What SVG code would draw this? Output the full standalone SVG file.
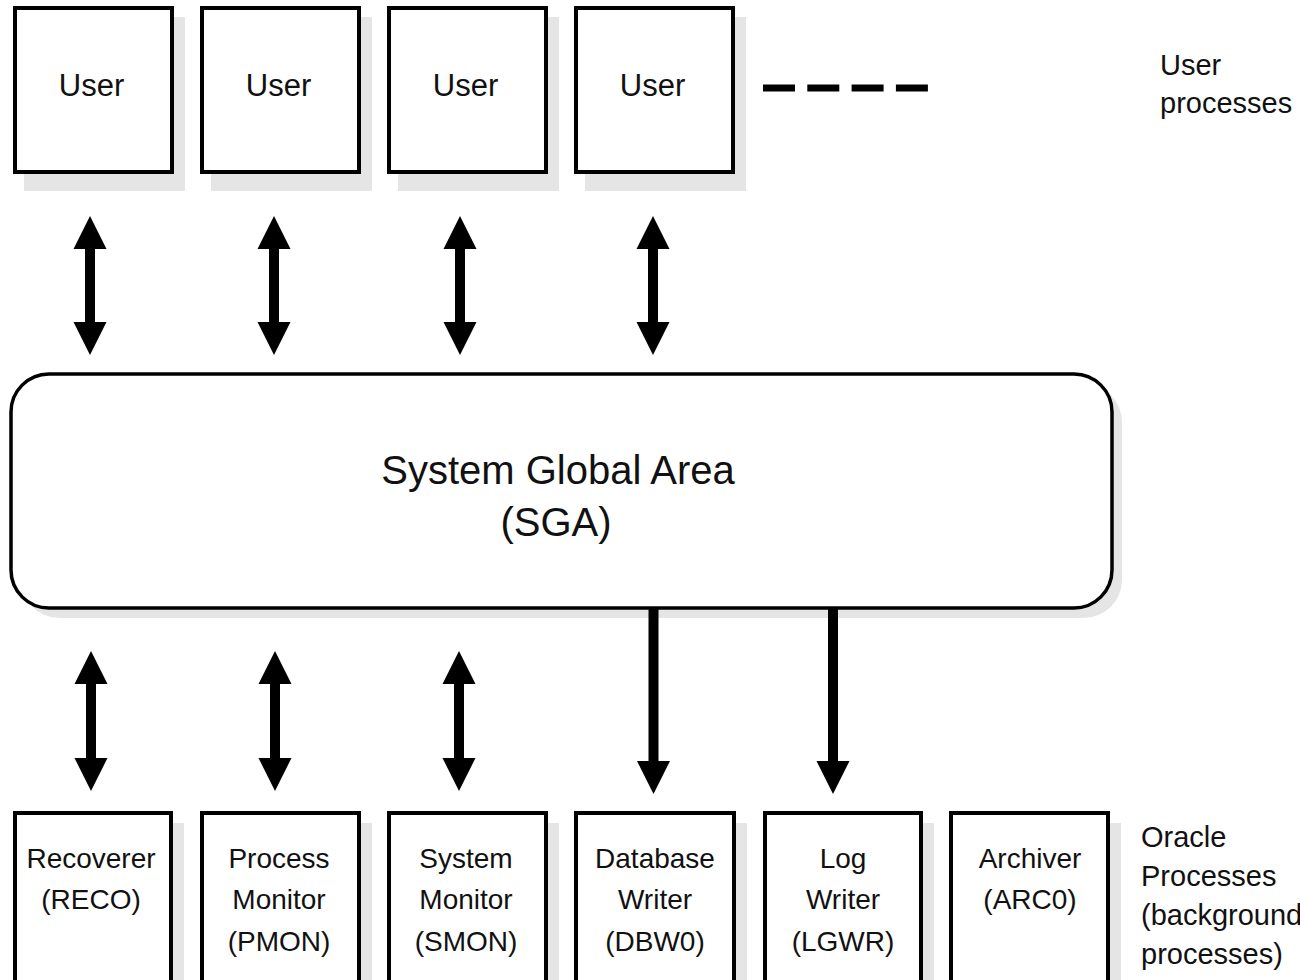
<svg xmlns="http://www.w3.org/2000/svg" width="1300" height="980" viewBox="0 0 1300 980">
<style>
.bg{fill:#ffffff}
.shadow{fill:#e5e5e5;stroke:none}
.box{fill:#ffffff;stroke:#000;stroke-width:4}
.sga{fill:#ffffff;stroke:#000;stroke-width:3.5}
.t{font-family:"Liberation Sans",Arial,sans-serif;fill:#111;text-anchor:middle}
.user{font-size:31px}
.proc{font-size:28px}
.big{font-size:40px}
.lab{font-family:"Liberation Sans",Arial,sans-serif;fill:#111;font-size:29px}
.shaft{stroke:#000;stroke-width:10;fill:none}
.dash{stroke:#000;stroke-width:7;stroke-dasharray:32 12.3;fill:none}
</style>
<defs>
<marker id="head" markerUnits="userSpaceOnUse" markerWidth="33" markerHeight="34" viewBox="0 -17 33 34" refX="0" refY="0" orient="auto-start-reverse" overflow="visible">
<path d="M0,-16.5 L33,0 L0,16.5 z" fill="#000"/>
</marker>
</defs>
<rect class="bg" x="0" y="0" width="1300" height="980"/>

<g id="user1">
<rect class="shadow" x="24" y="17" width="161" height="174"/>
<rect class="box" x="15" y="8" width="157" height="164"/>
<text class="t user" x="91.5" y="96">User</text>
</g>
<g id="user2">
<rect class="shadow" x="211" y="17" width="161" height="174"/>
<rect class="box" x="202" y="8" width="157" height="164"/>
<text class="t user" x="278.5" y="96">User</text>
</g>
<g id="user3">
<rect class="shadow" x="398" y="17" width="161" height="174"/>
<rect class="box" x="389" y="8" width="157" height="164"/>
<text class="t user" x="465.5" y="96">User</text>
</g>
<g id="user4">
<rect class="shadow" x="585" y="17" width="161" height="174"/>
<rect class="box" x="576" y="8" width="157" height="164"/>
<text class="t user" x="652.5" y="96">User</text>
</g>
<g id="more-users">
<line class="dash" x1="763" y1="88" x2="929" y2="88"/>
</g>
<g id="user-processes-label">
<text class="lab" x="1160" y="75">User</text>
<text class="lab" x="1160" y="113">processes</text>
</g>

<g id="sga">
<rect class="shadow" x="21" y="384" width="1101" height="234" rx="38" ry="38"/>
<rect class="sga" x="11" y="374" width="1101" height="234" rx="38" ry="38"/>
<text class="t big" x="558" y="484">System Global Area</text>
<text class="t big" x="556" y="536">(SGA)</text>
</g>

<g id="reco">
<rect class="shadow" x="24" y="823" width="160" height="170"/>
<rect class="box" x="15" y="813" width="156" height="180"/>
<text class="t proc" x="91" y="868">Recoverer</text>
<text class="t proc" x="91" y="909">(RECO)</text>
</g>
<g id="pmon">
<rect class="shadow" x="211" y="823" width="161" height="170"/>
<rect class="box" x="202" y="813" width="157" height="180"/>
<text class="t proc" x="279" y="868">Process</text>
<text class="t proc" x="279" y="909">Monitor</text>
<text class="t proc" x="279" y="951">(PMON)</text>
</g>
<g id="smon">
<rect class="shadow" x="398" y="823" width="161" height="170"/>
<rect class="box" x="389" y="813" width="157" height="180"/>
<text class="t proc" x="466" y="868">System</text>
<text class="t proc" x="466" y="909">Monitor</text>
<text class="t proc" x="466" y="951">(SMON)</text>
</g>
<g id="dbw0">
<rect class="shadow" x="585" y="823" width="162" height="170"/>
<rect class="box" x="576" y="813" width="158" height="180"/>
<text class="t proc" x="655" y="868">Database</text>
<text class="t proc" x="655" y="909">Writer</text>
<text class="t proc" x="655" y="951">(DBW0)</text>
</g>
<g id="lgwr">
<rect class="shadow" x="774" y="823" width="160" height="170"/>
<rect class="box" x="765" y="813" width="156" height="180"/>
<text class="t proc" x="843" y="868">Log</text>
<text class="t proc" x="843" y="909">Writer</text>
<text class="t proc" x="843" y="951">(LGWR)</text>
</g>
<g id="arc0">
<rect class="shadow" x="960" y="823" width="161" height="170"/>
<rect class="box" x="951" y="813" width="157" height="180"/>
<text class="t proc" x="1030" y="868">Archiver</text>
<text class="t proc" x="1030" y="909">(ARC0)</text>
</g>
<g id="oracle-processes-label">
<text class="lab" x="1141" y="847">Oracle</text>
<text class="lab" x="1141" y="886">Processes</text>
<text class="lab" x="1141" y="925">(background</text>
<text class="lab" x="1141" y="964">processes)</text>
</g>

<g id="connectors">
<line class="shaft" x1="90" y1="249" x2="90" y2="322" marker-start="url(#head)" marker-end="url(#head)"/>
<line class="shaft" x1="274" y1="249" x2="274" y2="322" marker-start="url(#head)" marker-end="url(#head)"/>
<line class="shaft" x1="460" y1="249" x2="460" y2="322" marker-start="url(#head)" marker-end="url(#head)"/>
<line class="shaft" x1="653" y1="249" x2="653" y2="322" marker-start="url(#head)" marker-end="url(#head)"/>
<line class="shaft" x1="91" y1="684" x2="91" y2="758" marker-start="url(#head)" marker-end="url(#head)"/>
<line class="shaft" x1="275" y1="684" x2="275" y2="758" marker-start="url(#head)" marker-end="url(#head)"/>
<line class="shaft" x1="459" y1="684" x2="459" y2="758" marker-start="url(#head)" marker-end="url(#head)"/>
<line class="shaft" x1="653.5" y1="609" x2="653.5" y2="761" marker-end="url(#head)"/>
<line class="shaft" x1="833" y1="609" x2="833" y2="761" marker-end="url(#head)"/>
</g>
</svg>
